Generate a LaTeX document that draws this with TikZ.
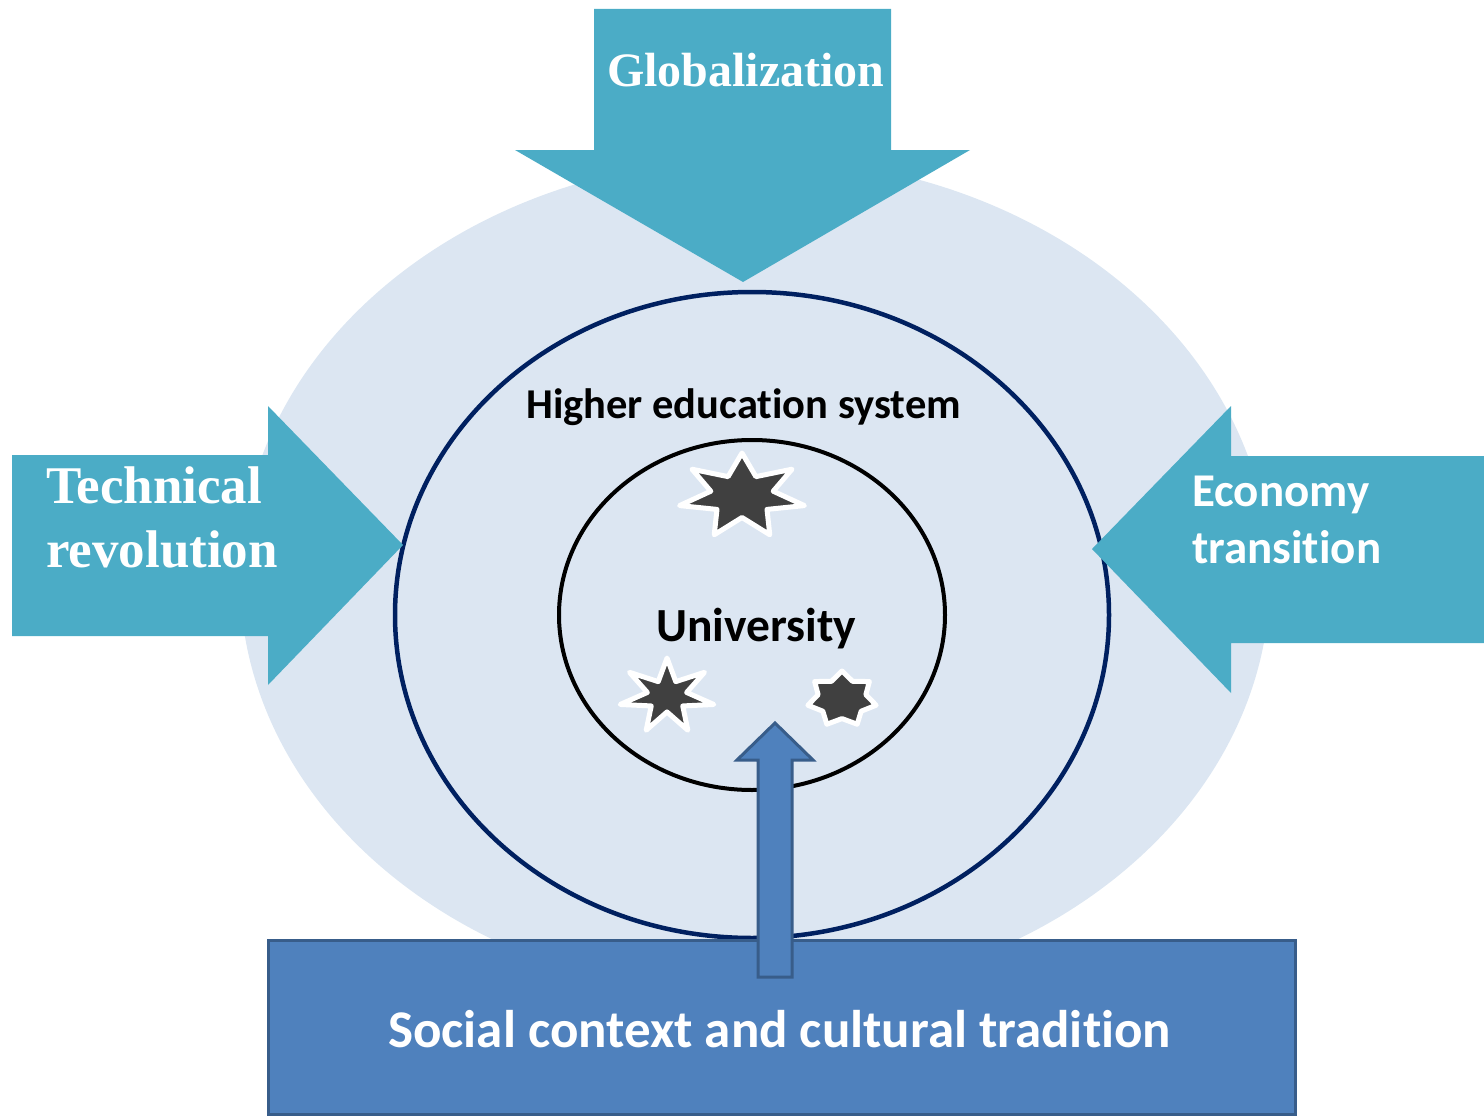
\documentclass[tikz,border=0pt]{standalone}
\usepackage{fontspec}
\newfontfamily\tnrfont{Liberation Serif}
\newfontfamily\calfont{Carlito}[Ligatures=NoCommon]
\definecolor{bgblue}{HTML}{DCE6F2}
\definecolor{arrowteal}{HTML}{4BACC6}
\definecolor{navyline}{HTML}{002060}
\definecolor{boxblue}{HTML}{4F81BD}
\definecolor{boxedge}{HTML}{385D8A}
\definecolor{stargray}{HTML}{404040}
\begin{document}
\begin{tikzpicture}[x=1pt,y=-1pt,
  forcearrow/.style={fill=arrowteal},
  starshape/.style={fill=stargray, draw=white, line width=5pt, line join=round},
  lbl/.style={inner sep=0pt, anchor=base west, align=left},
]
\useasboundingbox (0,0) rectangle (1484,1116);
% context ellipses
\fill[bgblue] (755,578) ellipse [x radius=515, y radius=420];
\draw[navyline, line width=4.5pt] (752,615) ellipse [x radius=357, y radius=323];
\draw[black, line width=4pt] (752,615) ellipse [x radius=193, y radius=175];
% force arrows
\fill[forcearrow] (594,9) -- (891,9) -- (891,150) -- (970,150) -- (743,282) -- (515,150) -- (594,150) -- cycle;
\fill[forcearrow] (12,455) -- (268,455) -- (268,406) -- (403,545) -- (268,685) -- (268,636) -- (12,636) -- cycle;
\fill[forcearrow] (1484,456) -- (1231,456) -- (1231,406) -- (1092,549) -- (1231,693) -- (1231,643) -- (1484,643) -- cycle;
% stars
\begin{scope}[shift={(742,496)}, xscale=64, yscale=43]
\draw[starshape] plot[samples at={0,...,13}, variable=\k] ({(mod(\k,2)==0 ? 1 : 0.5)*cos(-90+\k*360/14)}, {(mod(\k,2)==0 ? 1 : 0.5)*sin(-90+\k*360/14)}) -- cycle;
\end{scope}
\begin{scope}[shift={(667,696)}, xscale=48, yscale=38]
\draw[starshape] plot[samples at={0,...,13}, variable=\k] ({(mod(\k,2)==0 ? 1 : 0.42)*cos(-90+\k*360/14)}, {(mod(\k,2)==0 ? 1 : 0.42)*sin(-90+\k*360/14)}) -- cycle;
\end{scope}
\begin{scope}[shift={(842,699)}, xscale=35, yscale=28]
\draw[starshape] plot[samples at={0,...,13}, variable=\k] ({(mod(\k,2)==0 ? 1 : 0.7)*cos(-90+\k*360/14)}, {(mod(\k,2)==0 ? 1 : 0.7)*sin(-90+\k*360/14)}) -- cycle;
\end{scope}
% social context box and arrow
\draw[fill=boxblue, draw=boxedge, line width=3pt] (268,940) rectangle (1295,1114);
\draw[fill=boxblue, draw=boxedge, line width=3pt, line join=miter] (758,977) -- (758,760) -- (737,760) -- (775,723) -- (813,760) -- (792,760) -- (792,977) -- cycle;
% labels
\node[lbl, text=white, font=\tnrfont\bfseries\fontsize{48}{56}\selectfont] (glob) at (607,86) {Globalization};
\node[lbl, text=white, font=\tnrfont\bfseries\fontsize{53}{64}\selectfont] (tech) at (46,567) {Technical\\revolution};
\node[lbl, text=white, font=\calfont\bfseries\fontsize{47}{57}\selectfont] (econ) at (1192,563) {Economy\\transition};
\node[lbl, text=black, font=\calfont\bfseries\fontsize{42.5}{48}\selectfont] (hes) at (526,418) {Higher education system};
\node[lbl, text=black, font=\calfont\bfseries\fontsize{47.5}{52}\selectfont] (univ) at (656,641) {University};
\node[lbl, text=white, font=\calfont\bfseries\fontsize{53}{60}\selectfont] (soc) at (388,1047) {Social context and cultural tradition};
\end{tikzpicture}
\end{document}
